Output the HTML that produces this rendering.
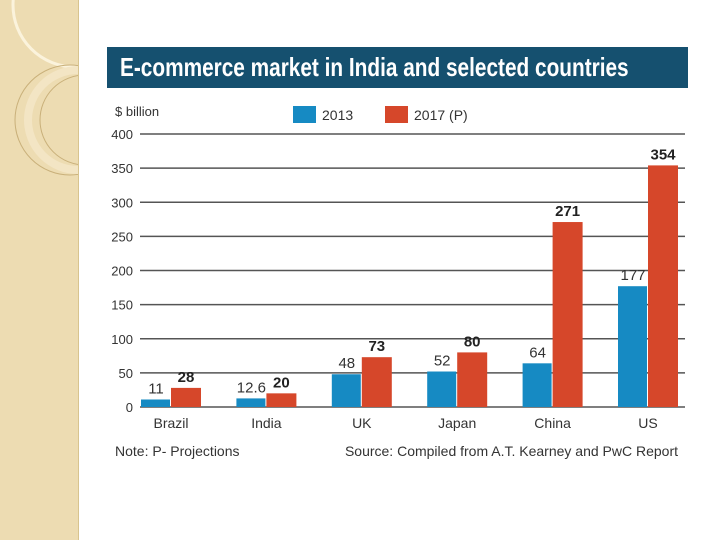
<!DOCTYPE html>
<html><head><meta charset="utf-8"><style>
body{margin:0;width:720px;height:540px;background:#fff;position:relative;overflow:hidden;font-family:"Liberation Sans",sans-serif}
#strip{position:absolute;left:0;top:0;width:78px;height:540px;background:#eddcb2;border-right:1px solid #d8c48e}
#titlebar{position:absolute;left:107px;top:47px;width:581px;height:41px;background:#15506f}
#title{position:absolute;left:120px;top:47px;color:#fff;font-size:26px;font-weight:bold;line-height:41px;white-space:nowrap;transform:scaleX(0.8);transform-origin:left center}
</style></head><body>
<div id="strip">
<svg width="78" height="540"><circle cx="75" cy="5" r="62" fill="none" stroke="#fbf3dc" stroke-width="3"/><circle cx="70" cy="120" r="55" fill="none" stroke="#c9b07a" stroke-width="1"/><circle cx="85" cy="120" r="45" fill="none" stroke="#c9b07a" stroke-width="1"/><circle cx="78" cy="120" r="50" fill="none" stroke="#f3e5c4" stroke-width="8"/></svg>
</div>
<div id="titlebar"></div>
<div id="title">E-commerce market in India and selected countries</div>
<svg id="chart" width="720" height="540" style="position:absolute;left:0;top:0"></svg>
<script>
const categories=["Brazil","India","UK","Japan","China","US"];
const values2013=[11,12.6,48,52,64,177];
const values2017=[28,20,73,80,271,354];
const labels2013=["11","12.6","48","52","64","177"];
const labels2017=["28","20","73","80","271","354"];
const yTicks=[0,50,100,150,200,250,300,350,400];
const NS="http://www.w3.org/2000/svg";
const svg=document.getElementById('chart');
const y=v=>407-v*(273/400);
const xc=i=>171+i*95.4;
function mk(t,a,txt){const e=document.createElementNS(NS,t);for(const k in a)e.setAttribute(k,a[k]);if(txt!==undefined)e.textContent=txt;svg.appendChild(e);return e;}
yTicks.forEach(v=>{
 const l=mk('line',{x1:140,x2:685,y1:y(v),y2:y(v),stroke:'#555','stroke-width':1.5});
 
 
 const t=mk('text',{x:133,y:y(v)+5,'text-anchor':'end','font-size':13,fill:'#333'},v);
 
 
});
const yl=mk('text',{x:115,y:116,'font-size':13,fill:'#333'},'$ billion');


categories.forEach((c,i)=>{
 const b1=mk('rect',{x:xc(i)-30,y:y(values2013[i]),width:29,height:407-y(values2013[i]),fill:'#168ac3'});
 
 
 const b2=mk('rect',{x:xc(i),y:y(values2017[i]),width:30,height:407-y(values2017[i]),fill:'#d6472a'});
 
 
 const t1=mk('text',{x:xc(i)-15,y:y(values2013[i])-6,'text-anchor':'middle','font-size':15,fill:'#333'},labels2013[i]);
 
 
 const t2=mk('text',{x:xc(i)+15,y:y(values2017[i])-6,'text-anchor':'middle','font-size':15,'font-weight':'bold',fill:'#222'},labels2017[i]);
 
 
 const cl=mk('text',{x:xc(i),y:428,'text-anchor':'middle','font-size':14,fill:'#333'},c);
 
 
});
const lg1=mk('rect',{x:293,y:106,width:23,height:17,fill:'#168ac3'});


const lt1=mk('text',{x:322,y:120,'font-size':14,fill:'#333'},'2013');


const lg2=mk('rect',{x:385,y:106,width:23,height:17,fill:'#d6472a'});


const lt2=mk('text',{x:414,y:120,'font-size':14,fill:'#333'},'2017 (P)');


const n1=mk('text',{x:115,y:456,'font-size':14,fill:'#333'},'Note: P- Projections');


const n2=mk('text',{x:678,y:456,'text-anchor':'end','font-size':14,fill:'#333'},'Source: Compiled from A.T. Kearney and PwC Report');


</script>
</body></html>
